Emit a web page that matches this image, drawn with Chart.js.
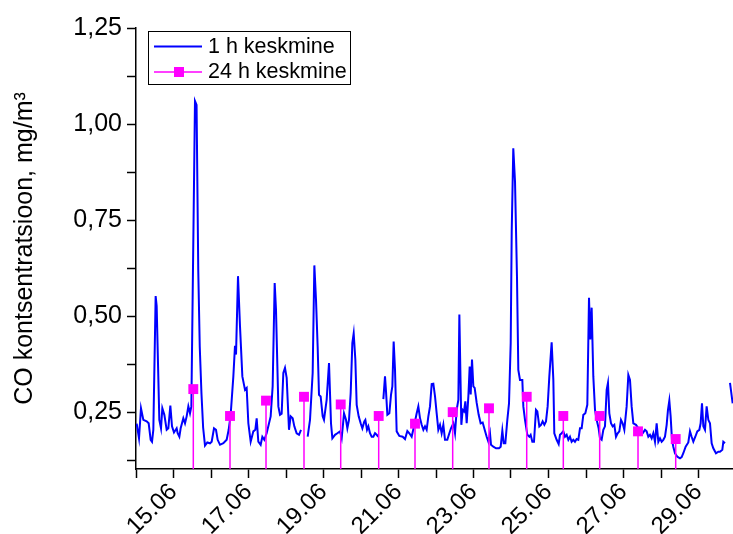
<!DOCTYPE html>
<html>
<head>
<meta charset="utf-8">
<script src="https://cdn.jsdelivr.net/npm/chart.js@4.4.1/dist/chart.umd.min.js"></script>
<style>
    html, body { margin: 0; padding: 0; background: #fff; }
    #wrap { width: 733px; height: 534px; overflow: hidden; }
</style>
</head>
<body>
<div id="wrap"><canvas id="ChartCO" width="733" height="534"></canvas></div>
<script>
// hourly means: day of June (fractional) and CO value, null = missing data
const hourDay = [
    14.018, 14.080, 14.133, 14.196, 14.284, 14.338, 14.391, 14.427, 14.462, 14.524, 14.551, 14.622, 14.667, 14.702, 14.756, 14.818, 14.862, 14.916, 14.960,
    15.013, 15.084, 15.111, 15.156, 15.191, 15.262, 15.307, 15.351, 15.396, 15.440, 15.476, 15.573, 15.615, 15.660, 15.700, 15.745, 15.790, 15.840, 15.902, 15.973,
    16.018, 16.080, 16.133, 16.178, 16.240, 16.329, 16.418, 16.471, 16.524, 16.596, 16.640, 16.667, 16.720, 16.773, 16.836, 16.907, 16.951, 16.996,
    17.058, 17.129, 17.182, 17.218, 17.262, 17.324, 17.369, 17.422, 17.484, 17.538, 17.591, 17.644, 17.698, 17.733, 17.796, 17.840, 17.884, 17.929, 17.973,
    18.018, 18.080, 18.124, 18.178, 18.222, 18.284, 18.347, 18.400, 18.490, 18.578, 18.640, 18.711, 18.756, 18.800, 18.844, 18.880, 18.924, 18.978,
    19.013, 19.084, 19.147, 19.200, 19.236, 19.307, 19.369, 19.440, 19.485, 19.547, 19.600, 19.636, 19.680, 19.725, 19.769, 19.805, 19.849, 19.885, 19.938, 19.991,
    20.036, 20.089, 20.116, 20.160, 20.196, 20.240, 20.285, 20.329, 20.374, 20.418, 20.463, 20.530, 20.596, 20.640, 20.667, 20.703, 20.756, 20.800, 20.836, 20.871, 20.907, 20.951,
    21.022, 21.111, 21.174, 21.236, 21.289, 21.351, 21.422, 21.485, 21.529, 21.574, 21.618, 21.663, 21.707, 21.751, 21.796, 21.840, 21.885, 21.929, 21.974,
    22.018, 22.062, 22.107, 22.151, 22.196, 22.240, 22.302, 22.356, 22.400, 22.463, 22.507, 22.551, 22.596, 22.623, 22.649, 22.676, 22.711, 22.747, 22.783, 22.818, 22.863, 22.898, 22.925, 22.960, 22.996,
    23.031, 23.085, 23.138, 23.191, 23.245, 23.298, 23.351, 23.396, 23.440, 23.467, 23.529, 23.600, 23.680, 23.725, 23.769, 23.805, 23.849, 23.902, 23.947, 23.992,
    24.019, 24.061, 24.107, 24.160, 24.195, 24.240, 24.302, 24.329, 24.373, 24.435, 24.489, 24.524, 24.569, 24.613, 24.666, 24.702, 24.755, 24.800, 24.844, 24.889, 24.933, 24.977,
    25.022, 25.084, 25.129, 25.155, 25.217, 25.271, 25.306, 25.351, 25.395, 25.440, 25.484, 25.529, 25.573, 25.617, 25.662, 25.706, 25.751, 25.795, 25.840, 25.884, 25.929, 25.982,
    26.035, 26.080, 26.115, 26.151, 26.195, 26.240, 26.284, 26.337, 26.373, 26.417, 26.462, 26.506, 26.551, 26.586, 26.622, 26.666, 26.711, 26.755, 26.800, 26.844, 26.889, 26.933, 26.977,
    27.022, 27.084, 27.129, 27.173, 27.217, 27.262, 27.333, 27.395, 27.457, 27.511, 27.573, 27.617, 27.662, 27.706, 27.751, 27.795, 27.840, 27.884, 27.929, 27.973,
    28.017, 28.062, 28.106, 28.151, 28.186, 28.222, 28.257, 28.293, 28.328, 28.373, 28.435, 28.506, 28.551, 28.595, 28.657, 28.728, 28.773, 28.817, 28.862, 28.915, 28.968,
    29.022, 29.057, 29.093, 29.129, 29.173, 29.217, 29.262, 29.306, 29.351, 29.395, 29.466, 29.529, 29.573, 29.635, 29.662, 29.706, 29.770, 29.840, 29.911
];
const hourCO = [
    0.220, 0.182, 0.260, 0.230, 0.226, 0.221, 0.178, 0.173, 0.204, 0.552, 0.526, 0.230, 0.208, 0.260, 0.243, 0.204, 0.208, 0.267, 0.213,
    0.197, 0.208, 0.195, 0.186, 0.208, 0.234, 0.221, 0.239, 0.265, 0.247, 0.265, 1.060, 1.050, 0.620, 0.420, 0.300, 0.210, 0.163, 0.171, 0.169,
    0.173, 0.208, 0.204, 0.178, 0.165, 0.169, 0.178, 0.204, 0.243, 0.343, 0.423, 0.400, 0.604, 0.474, 0.343, 0.308, 0.313, 0.221,
    0.173, 0.200, 0.204, 0.234, 0.173, 0.165, 0.186, 0.178, 0.195, 0.217, 0.239, 0.317, 0.586, 0.517, 0.265, 0.243, 0.246, 0.352, 0.365,
    0.339, 0.204, 0.239, 0.234, 0.213, 0.195, 0.191, 0.204, null, 0.186, 0.230, 0.352, 0.632, 0.543, 0.421, 0.295, 0.291, 0.239,
    0.230, 0.282, 0.378, 0.221, 0.182, 0.191, 0.195, 0.200, 0.182, 0.247, 0.230, 0.208, 0.230, 0.300, 0.430, 0.455, 0.387, 0.269, 0.239, 0.221,
    0.208, 0.226, 0.230, 0.204, 0.213, 0.195, 0.186, 0.186, 0.195, 0.191, 0.186, null, 0.284, 0.343, 0.304, 0.243, 0.247, 0.295, 0.317, 0.434, 0.360, 0.200,
    0.188, 0.186, 0.180, 0.201, 0.195, 0.186, 0.217, 0.247, 0.265, 0.234, 0.217, 0.204, 0.213, 0.204, 0.239, 0.265, 0.323, 0.324, 0.291,
    0.247, 0.204, 0.217, 0.195, 0.217, 0.178, 0.178, 0.195, 0.208, 0.221, 0.195, 0.256, 0.282, 0.504, 0.360, 0.217, 0.256, 0.252, 0.278, 0.221, 0.291, 0.369, 0.296, 0.387, 0.317,
    0.313, 0.274, 0.243, 0.221, 0.223, 0.204, 0.186, 0.173, 0.195, 0.165, 0.160, 0.156, 0.156, 0.160, 0.202, 0.169, 0.169, 0.230, 0.273, 0.430,
    0.720, 0.937, 0.850, 0.600, 0.360, 0.334, 0.334, 0.265, 0.230, 0.191, 0.186, 0.191, 0.173, 0.173, 0.256, 0.252, 0.213, 0.217, 0.226, 0.217, 0.226, 0.265,
    0.343, 0.432, 0.334, 0.195, 0.178, 0.167, 0.191, 0.195, 0.200, 0.186, 0.191, 0.178, 0.186, 0.173, 0.178, 0.173, 0.180, 0.178, 0.208, 0.208, 0.243, 0.247,
    0.269, 0.548, 0.439, 0.522, 0.343, 0.256, 0.230, 0.208, 0.182, 0.178, 0.204, 0.213, 0.308, 0.326, 0.247, 0.221, 0.213, 0.217, 0.186, 0.195, 0.200, 0.230, 0.221,
    0.204, 0.265, 0.347, 0.334, 0.265, 0.221, 0.217, 0.208, 0.200, 0.195, 0.204, 0.200, 0.186, 0.191, 0.182, 0.195, 0.173, 0.221, 0.173, 0.182,
    0.173, 0.178, 0.186, 0.217, 0.256, 0.280, 0.239, 0.178, 0.160, 0.143, 0.134, 0.130, 0.133, 0.143, 0.160, 0.171, 0.200, 0.186, 0.173, 0.186, 0.200,
    0.204, 0.221, 0.273, 0.213, 0.204, 0.265, 0.230, 0.221, 0.169, 0.156, 0.143, 0.147, 0.147, 0.152, 0.173, 0.169, null, 0.326, 0.273
];

// daily means
const dayDay = [15.528, 16.507, 17.467, 18.480, 19.459, 20.472, 21.440, 22.445, 23.413, 24.419, 25.395, 26.365, 27.387, 28.392];
const dayCO = [0.31, 0.24, 0.28, 0.29, 0.27, 0.24, 0.22, 0.25, 0.26, 0.29, 0.24, 0.24, 0.20, 0.18];

// date labels on the x axis
const tickDays = [15, 17, 19, 21, 23, 25, 27, 29];
const tickLabels = ['15.06', '17.06', '19.06', '21.06', '23.06', '25.06', '27.06', '29.06'];

const FONT = 'Arial, "Liberation Sans", sans-serif';
const BLUE = '#0000ff';
const MAGENTA = '#ff00ff';

Chart.defaults.font.family = FONT;
Chart.defaults.color = '#000';

// thin drop lines from every daily square down to the x axis
const dropLines = {
    id: 'dropLines',
    beforeDatasetDraw(chart, args) {
        if (args.index !== 1) return;
        const {ctx, chartArea} = chart;
        const xs = chart.scales.x, ys = chart.scales.y;
        ctx.save();
        ctx.strokeStyle = MAGENTA;
        ctx.lineWidth = 1.5;
        dayDay.forEach((d, i) => {
            const px = xs.getPixelForValue(d);
            ctx.beginPath();
            ctx.moveTo(px, ys.getPixelForValue(dayCO[i]));
            ctx.lineTo(px, chartArea.bottom);
            ctx.stroke();
        });
        ctx.restore();
    }
};

// boxed legend: plain line for the hourly series, line with square for the daily one
const boxLegend = {
    id: 'boxLegend',
    afterDraw(chart) {
        const ctx = chart.ctx;
        const sets = chart.data.datasets;
        ctx.save();
        ctx.fillStyle = '#fff';
        ctx.fillRect(148, 31, 203, 53);
        ctx.strokeStyle = '#000';
        ctx.lineWidth = 1;
        ctx.strokeRect(148.5, 31.5, 202, 53);

        ctx.lineWidth = 2;
        ctx.strokeStyle = BLUE;
        ctx.beginPath();
        ctx.moveTo(154, 46.5);
        ctx.lineTo(202, 46.5);
        ctx.stroke();

        ctx.lineWidth = 1.5;
        ctx.strokeStyle = MAGENTA;
        ctx.beginPath();
        ctx.moveTo(154, 72);
        ctx.lineTo(202, 72);
        ctx.stroke();
        ctx.fillStyle = MAGENTA;
        ctx.fillRect(174, 67, 10, 10);

        ctx.fillStyle = '#000';
        ctx.font = '21.5px ' + FONT;
        ctx.textBaseline = 'middle';
        ctx.fillText(sets[0].label, 208, 47);
        ctx.fillText(sets[1].label, 208, 72.5);
        ctx.restore();
    }
};

const chartCO = document.getElementById('ChartCO');
new Chart(chartCO, {
    type: 'line',
    data: {
        datasets: [{
            label: '1 h keskmine',
            data: hourDay.map((d, i) => ({x: d, y: hourCO[i]})),
            borderColor: BLUE,
            borderWidth: 2,
            pointRadius: 0,
            tension: 0,
            spanGaps: false,
            order: 2
        }, {
            label: '24 h keskmine',
            data: dayDay.map((d, i) => ({x: d, y: dayCO[i]})),
            showLine: false,
            pointStyle: 'rect',
            pointRadius: 7,
            pointBorderWidth: 0,
            backgroundColor: MAGENTA,
            borderColor: MAGENTA,
            order: 1
        }]
    },
    options: {
        responsive: false,
        animation: false,
        devicePixelRatio: 1,
        layout: {autoPadding: false, padding: {top: 28, right: 0, bottom: 0, left: 0}},
        plugins: {
            legend: {display: false},
            tooltip: {enabled: false}
        },
        scales: {
            x: {
                type: 'linear',
                min: 14,
                max: 29.92,
                afterFit: scale => { scale.height = 65; },
                border: {color: '#000', width: 1.5},
                grid: {drawOnChartArea: false, tickLength: 9, tickWidth: 1.5, tickColor: '#000'},
                ticks: {
                    stepSize: 1,
                    includeBounds: false,
                    autoSkip: false,
                    minRotation: 45,
                    maxRotation: 45,
                    padding: 0,
                    font: {size: 24},
                    callback: value => {
                        const i = tickDays.indexOf(value);
                        return i >= 0 ? tickLabels[i] : '';
                    }
                }
            },
            y: {
                min: 0.102,
                max: 1.25,
                afterFit: scale => { scale.width = 136; },
                border: {color: '#000', width: 1.5},
                grid: {drawOnChartArea: false, tickLength: 9, tickWidth: 1.5, tickColor: '#000'},
                ticks: {
                    stepSize: 0.125,
                    includeBounds: false,
                    autoSkip: false,
                    padding: 5,
                    font: {size: 25},
                    callback: value => {
                        const q = value / 0.25;
                        return Math.abs(q - Math.round(q)) < 1e-6 ? value.toFixed(2).replace('.', ',') : '';
                    }
                },
                title: {
                    display: true,
                    text: 'CO kontsentratsioon, mg/m³',
                    font: {size: 25},
                    padding: {top: 10, bottom: 0}
                }
            }
        }
    },
    plugins: [dropLines, boxLegend]
});
</script>
</body>
</html>
